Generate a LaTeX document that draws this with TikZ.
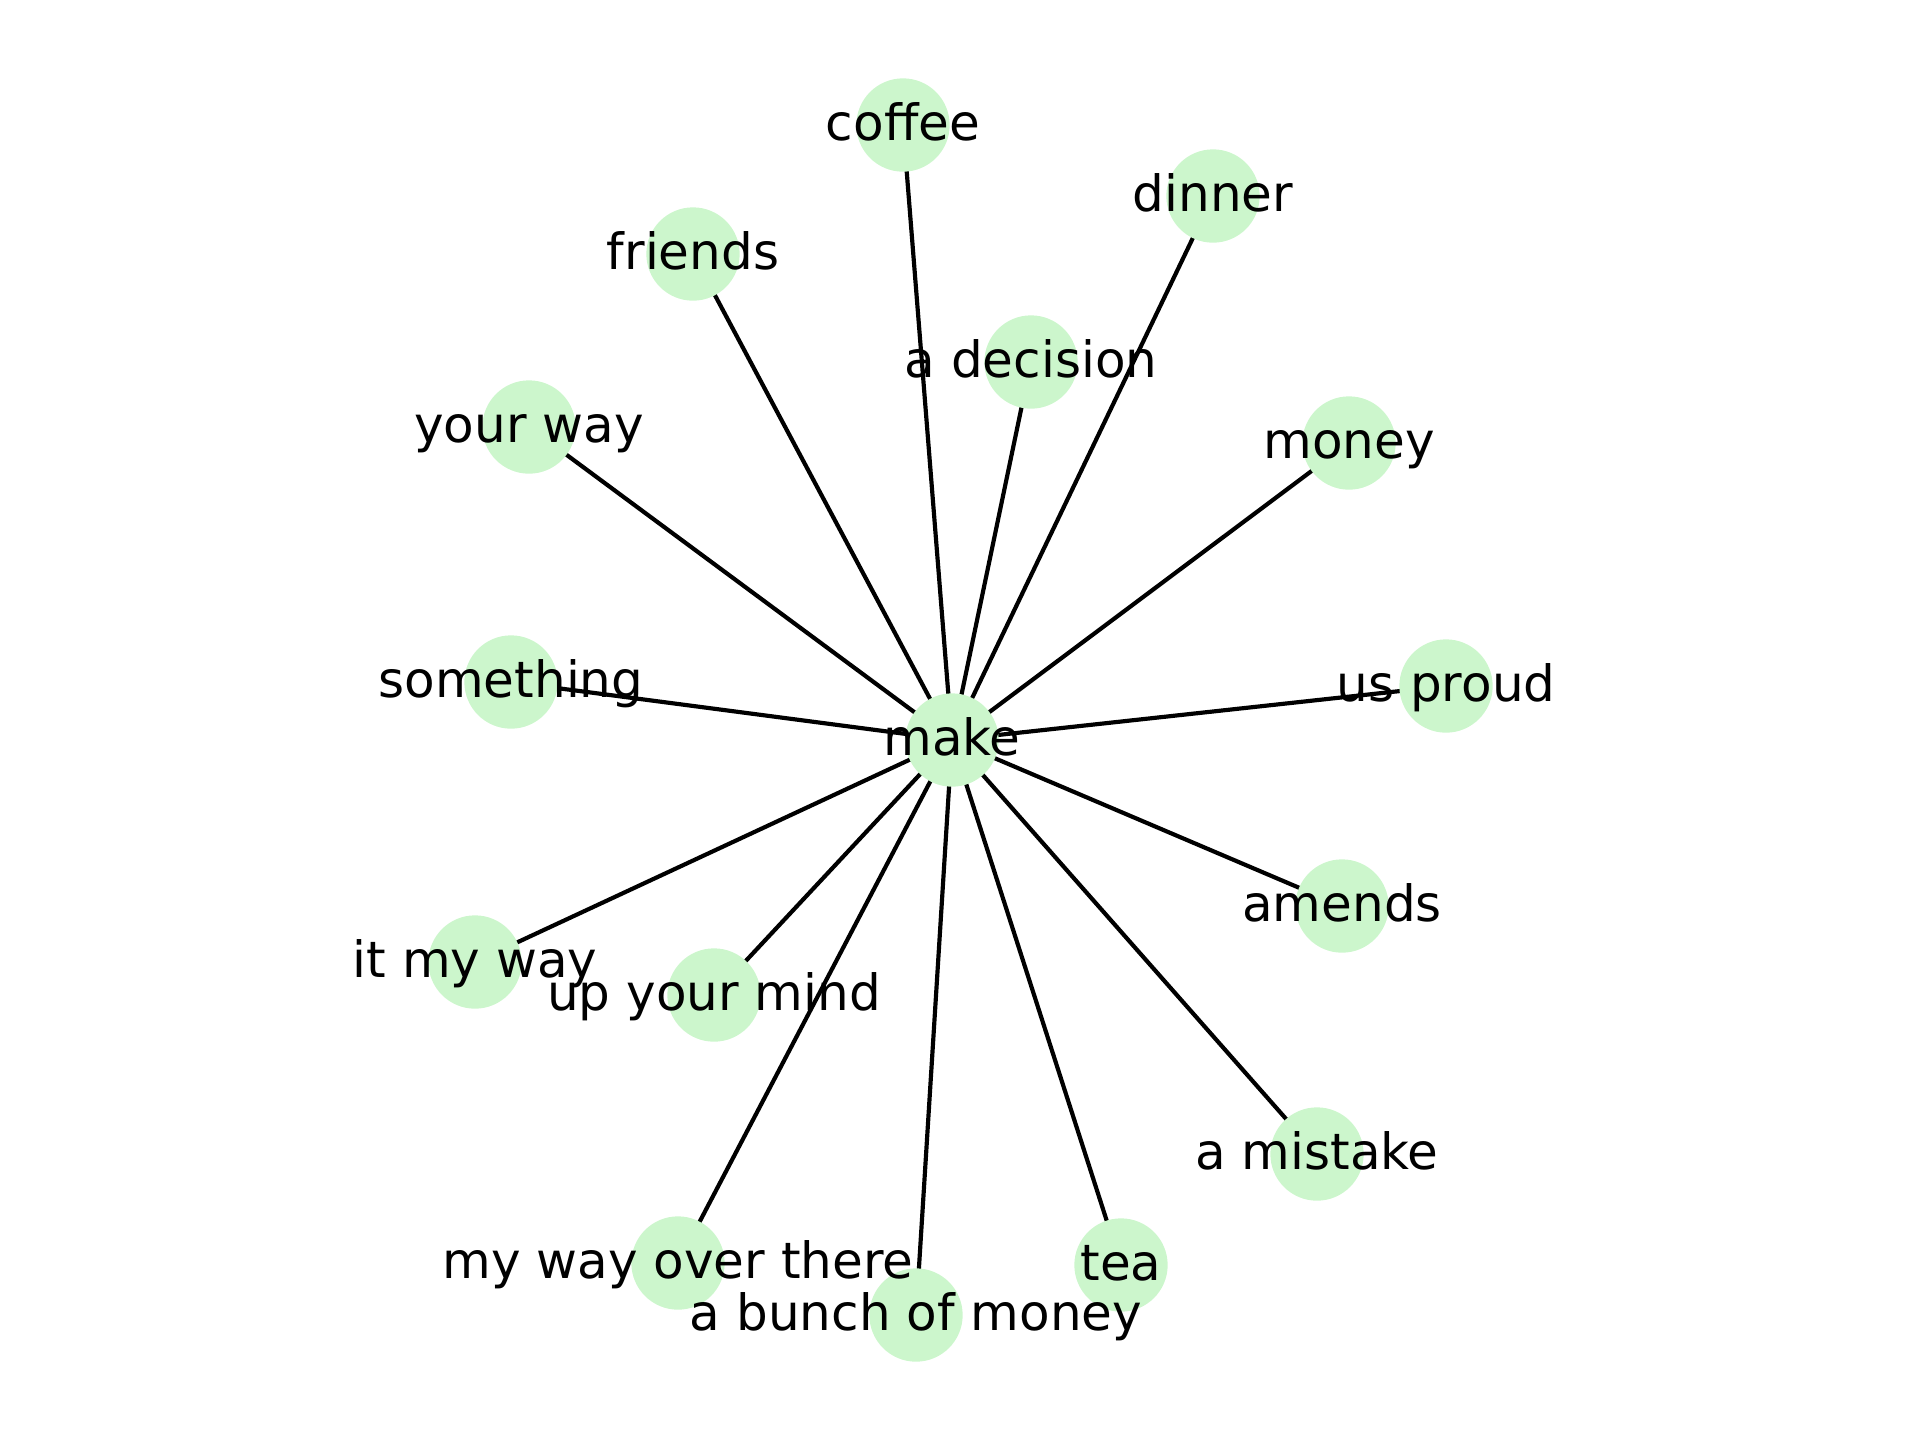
\documentclass[tikz,border=0pt]{standalone}
\usepackage{fontspec}
\setmainfont{DejaVu Sans}
\pgfdeclarelayer{background}
\pgfdeclarelayer{foreground}
\pgfsetlayers{background,main,foreground}
\definecolor{nodegreen}{RGB}{204,246,204}
\tikzset{
  dot/.style={circle, fill=nodegreen, draw=none, minimum size=22.4pt, inner sep=0pt},
  lbl/.style={inner sep=0pt, text height=0.76em, text depth=0.24em, yshift=-1pt, font=\fontsize{12pt}{14pt}\selectfont, text=black},
  link/.style={draw=black, line width=1pt}
}
\begin{document}
\begin{tikzpicture}[x=0.24pt, y=-0.24pt]
\useasboundingbox (0,0) rectangle (1920,1440);
% node circles
\node[dot] (make) at (952,740) {};
\node[dot] (coffee) at (903,125) {};
\node[dot] (dinner) at (1213,196) {};
\node[dot] (friends) at (693,254) {};
\node[dot] (decision) at (1031,362) {};
\node[dot] (yourway) at (529,427) {};
\node[dot] (money) at (1349,443) {};
\node[dot] (something) at (511,682) {};
\node[dot] (usproud) at (1446,686) {};
\node[dot] (amends) at (1342,906) {};
\node[dot] (itmyway) at (475,962) {};
\node[dot] (upyourmind) at (714,995) {};
\node[dot] (mistake) at (1317,1154) {};
\node[dot] (overthere) at (678,1263) {};
\node[dot] (tea) at (1121,1265) {};
\node[dot] (bunch) at (916,1315) {};
% edges under the circles
\begin{pgfonlayer}{background}
\foreach \t in {coffee,dinner,friends,decision,yourway,money,something,usproud,amends,itmyway,upyourmind,mistake,overthere,tea,bunch}
  \draw[link] (make.center) -- (\t.center);
\end{pgfonlayer}
% labels on top
\begin{pgfonlayer}{foreground}
\node[lbl] (l-make) at (make.center) {make};
\node[lbl] (l-coffee) at (coffee.center) {coffee};
\node[lbl] (l-dinner) at (dinner.center) {dinner};
\node[lbl] (l-friends) at (friends.center) {friends};
\node[lbl] (l-decision) at (decision.center) {a decision};
\node[lbl] (l-yourway) at (yourway.center) {your way};
\node[lbl] (l-money) at (money.center) {money};
\node[lbl] (l-something) at (something.center) {something};
\node[lbl] (l-usproud) at (usproud.center) {us proud};
\node[lbl] (l-amends) at (amends.center) {amends};
\node[lbl] (l-itmyway) at (itmyway.center) {it my way};
\node[lbl] (l-upyourmind) at (upyourmind.center) {up your mind};
\node[lbl] (l-mistake) at (mistake.center) {a mistake};
\node[lbl] (l-overthere) at (overthere.center) {my way over there};
\node[lbl] (l-tea) at (tea.center) {tea};
\node[lbl] (l-bunch) at (bunch.center) {a bunch of money};
\end{pgfonlayer}
\end{tikzpicture}
\end{document}
